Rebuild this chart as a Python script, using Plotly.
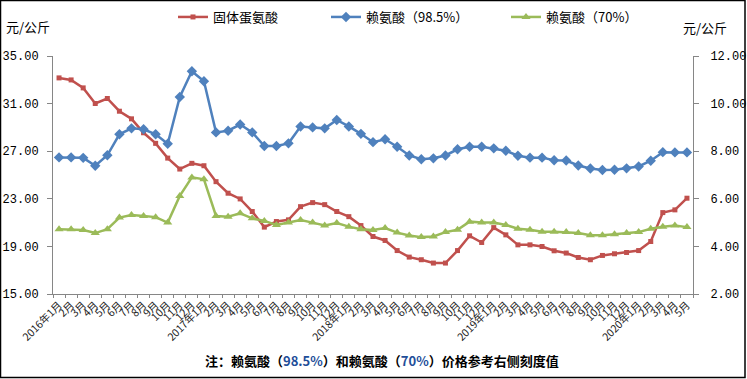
import plotly.graph_objects as go

months = []
for y in range(2016, 2021):
    for m in range(1, 13):
        if y == 2020 and m > 5:
            break
        months.append(f"{y}年{m}月" if m == 1 else f"{m}月")

methionine = [33.16, 32.99, 32.32, 31.01, 31.43, 30.36, 29.72, 28.55, 27.66, 26.42,
              25.50, 25.98, 25.78, 24.44, 23.47, 22.99, 21.93, 20.62, 21.09, 21.23,
              22.34, 22.68, 22.51, 21.93, 21.50, 20.75, 19.83, 19.50, 18.65, 18.10,
              17.88, 17.60, 17.60, 18.65, 19.89, 19.33, 20.58, 19.97, 19.13, 19.13,
              18.99, 18.63, 18.44, 18.07, 17.88, 18.24, 18.38, 18.49, 18.65, 19.41,
              21.84, 22.07, 23.05]

lysine985 = [7.74, 7.74, 7.72, 7.39, 7.83, 8.71, 8.96, 8.92, 8.71, 8.31,
             10.28, 11.36, 10.94, 8.79, 8.86, 9.12, 8.79, 8.22, 8.22, 8.33,
             9.04, 9.00, 8.96, 9.31, 9.04, 8.73, 8.38, 8.50, 8.19, 7.82,
             7.66, 7.70, 7.82, 8.08, 8.19, 8.19, 8.12, 8.02, 7.81, 7.73,
             7.73, 7.62, 7.61, 7.40, 7.27, 7.21, 7.22, 7.28, 7.36, 7.60,
             7.96, 7.95, 7.95]

lysine70 = [4.72, 4.72, 4.69, 4.56, 4.72, 5.21, 5.32, 5.28, 5.23, 5.00,
            6.12, 6.90, 6.82, 5.28, 5.25, 5.39, 5.18, 5.07, 4.90, 5.00,
            5.11, 5.00, 4.88, 4.98, 4.83, 4.72, 4.69, 4.77, 4.58, 4.46,
            4.39, 4.42, 4.60, 4.70, 5.04, 5.00, 5.00, 4.90, 4.74, 4.70,
            4.62, 4.62, 4.60, 4.56, 4.47, 4.47, 4.51, 4.56, 4.60, 4.74,
            4.83, 4.88, 4.81]

left_ticks = [15, 19, 23, 27, 31, 35]
right_ticks = [2, 4, 6, 8, 10, 12]

RED = "#C0504D"
BLUE = "#4F81BD"
GREEN = "#9BBB59"
W, H = 747, 379
L, R, T, B = 53, 54, 56, 85
PW, PH = W - L - R, H - T - B

def px2paper_x(px):
    return (px - L) / PW

def px2paper_y(py):
    return (H - B - py) / PH

xs = list(range(len(months)))

fig = go.Figure()
fig.add_trace(go.Scatter(x=xs, y=methionine, name="固体蛋氨酸", mode="lines+markers",
                         line=dict(color=RED, width=2.5),
                         marker=dict(symbol="square", size=5, color=RED),
                         legend="legend"))
fig.add_trace(go.Scatter(x=xs, y=lysine985, name="赖氨酸（98.5%）", mode="lines+markers",
                         line=dict(color=BLUE, width=2.5),
                         marker=dict(symbol="diamond", size=8, color=BLUE),
                         yaxis="y2", legend="legend2"))
fig.add_trace(go.Scatter(x=xs, y=lysine70, name="赖氨酸（70%）", mode="lines+markers",
                         line=dict(color=GREEN, width=2.5),
                         marker=dict(symbol="triangle-up", size=8, color=GREEN),
                         yaxis="y2", legend="legend3"))

legfont = dict(family="Noto Sans CJK SC", size=13, color="#000000")
def leg(px):
    return dict(x=px / W, xref="container", xanchor="left", y=px2paper_y(2), yref="paper",
                yanchor="top", orientation="h", font=legfont, bgcolor="rgba(0,0,0,0)",
                itemwidth=30)

numfont = dict(family="Liberation Mono", size=12, color="#000000")

fig.update_layout(
    width=W, height=H,
    margin=dict(l=L, r=R, t=T, b=B, autoexpand=False),
    paper_bgcolor="white", plot_bgcolor="white",
    showlegend=True,
    legend=leg(173), legend2=leg(326), legend3=leg(506),
    xaxis=dict(range=[-0.5, len(months) - 0.5],
               tickmode="array", tickvals=xs, ticktext=months,
               tickangle=-45, tickfont=dict(family="Noto Sans CJK SC", size=10.5, color="#222222"),
               ticks="", ticklen=0,
               minor=dict(tick0=-0.5, dtick=1, ticks="outside", ticklen=3, tickcolor="#868686",
                          showgrid=False),
               showline=True, linecolor="#868686", linewidth=1, showgrid=False, zeroline=False),
    yaxis=dict(range=[15, 35], tickvals=left_ticks, ticktext=[f"{v:.2f}" for v in left_ticks],
               tickfont=numfont, ticks="outside", ticklen=5, tickcolor="#868686",
               showline=True, linecolor="#868686", linewidth=1, showgrid=False, zeroline=False,
               ticklabelstandoff=6),
    yaxis2=dict(range=[2, 12], tickvals=right_ticks, ticktext=[f"{v:.2f}" for v in right_ticks],
                overlaying="y", side="right",
                tickfont=numfont, ticks="outside", ticklen=5, tickcolor="#868686",
                showline=True, linecolor="#868686", linewidth=1, showgrid=False, zeroline=False,
                ticklabelstandoff=9),
    annotations=[
        dict(text="元/公斤", x=px2paper_x(4), y=px2paper_y(26), xref="paper", yref="paper",
             xanchor="left", yanchor="middle", showarrow=False, font=legfont),
        dict(text="元/公斤", x=px2paper_x(681), y=px2paper_y(28), xref="paper", yref="paper",
             xanchor="left", yanchor="middle", showarrow=False, font=legfont),
        dict(text="<b>注：赖氨酸（<span style='color:#1F4E99'>98.5%</span>）和赖氨酸（"
                  "<span style='color:#1F4E99'>70%</span>）价格参考右侧刻度值</b>",
             x=px2paper_x(382), y=px2paper_y(360), xref="paper", yref="paper",
             xanchor="center", yanchor="middle", showarrow=False,
             font=dict(family="Noto Sans CJK SC", size=13, color="#000000")),
    ],
    shapes=[dict(type="rect", xref="paper", yref="paper",
                 x0=px2paper_x(0.5), x1=px2paper_x(745), y0=px2paper_y(377.5), y1=px2paper_y(0.5),
                 line=dict(color="#000000", width=1.5), layer="above")],
)

fig.write_html("out.html", config={"displayModeBar": False},
               post_script="document.body.style.margin='0';")
